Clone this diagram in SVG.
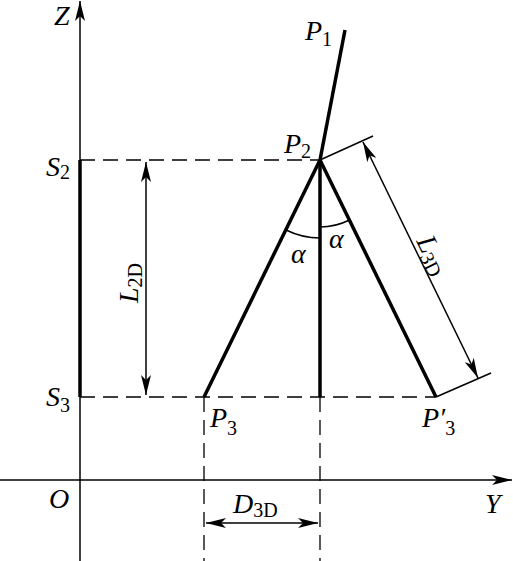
<svg xmlns="http://www.w3.org/2000/svg" width="513" height="561" viewBox="0 0 513 561">
<style>
.thin{stroke:#000;stroke-width:1.5;fill:none}
.thick{stroke:#000;stroke-width:3.5;fill:none}
.dash{stroke:#000;stroke-width:1.3;fill:none;stroke-dasharray:15 8}
text{font-family:"Liberation Serif","Times New Roman",serif;fill:#000}
.it{font-style:italic;font-size:28px}
.sub{font-style:normal;font-size:20px}
</style>
<defs>
<marker id="ah" viewBox="0 0 20 10" refX="20" refY="5" markerWidth="20" markerHeight="10" markerUnits="userSpaceOnUse" orient="auto-start-reverse">
<path d="M0,0 L20,5 L0,10 L5,5 Z" fill="#000"/>
</marker>
</defs>
<rect width="513" height="561" fill="#fff"/>
<g id="axes">
<line class="thin" x1="80" y1="561" x2="80" y2="1" marker-end="url(#ah)"/>
<line class="thin" x1="0" y1="480" x2="512" y2="480" marker-end="url(#ah)"/>
</g>
<g id="connectors">
<line class="dash" x1="80" y1="160" x2="320" y2="160"/>
<line class="dash" x1="80" y1="397" x2="436" y2="397"/>
<line class="dash" x1="204" y1="397" x2="204" y2="561"/>
<line class="dash" x1="320" y1="397" x2="320" y2="561"/>
<line class="thin" x1="146" y1="162" x2="146" y2="395" marker-start="url(#ah)" marker-end="url(#ah)"/>
<line class="thin" x1="206" y1="523" x2="318" y2="523" marker-start="url(#ah)" marker-end="url(#ah)"/>
<line class="thin" x1="320" y1="160" x2="373" y2="136"/>
<line class="thin" x1="436" y1="397" x2="491" y2="373"/>
<line class="thin" x1="363" y1="142" x2="478" y2="378" marker-start="url(#ah)" marker-end="url(#ah)"/>
<path class="thin" d="M286,230 A78,78 0 0 0 320,238"/>
<path class="thin" d="M320,227 A67,67 0 0 0 349.5,220"/>
</g>
<g id="segments">
<line class="thick" x1="80" y1="160" x2="80" y2="397"/>
<line class="thick" x1="345" y1="30" x2="320" y2="160"/>
<line class="thick" x1="320" y1="160" x2="204" y2="397"/>
<line class="thick" x1="320" y1="160" x2="436" y2="397"/>
<line class="thick" x1="320" y1="160" x2="320" y2="397"/>
</g>
<g id="labels">
<text class="it" x="54" y="25">Z</text>
<text class="it" x="305" y="40">P<tspan class="sub" dy="6">1</tspan></text>
<text class="it" x="284" y="153">P<tspan class="sub" dy="5">2</tspan></text>
<text class="it" x="46" y="176">S<tspan class="sub" dy="3">2</tspan></text>
<text class="it" x="46" y="406">S<tspan class="sub" dy="6">3</tspan></text>
<text class="it" x="210" y="427">P<tspan class="sub" dy="8">3</tspan></text>
<text class="it" x="422" y="427">P′<tspan class="sub" dy="8">3</tspan></text>
<text class="it" x="49" y="508">O</text>
<text class="it" x="485" y="513">Y</text>
<text class="it" x="233" y="513">D<tspan class="sub" dy="4">3D</tspan></text>
<text class="it" x="291" y="263">α</text>
<text class="it" x="329" y="248">α</text>
<text class="it" transform="translate(138,303) rotate(-90)">L<tspan class="sub" dy="4">2D</tspan></text>
<text class="it" transform="translate(416,241) rotate(63.9)">L<tspan class="sub" dy="4">3D</tspan></text>
</g>
</svg>
